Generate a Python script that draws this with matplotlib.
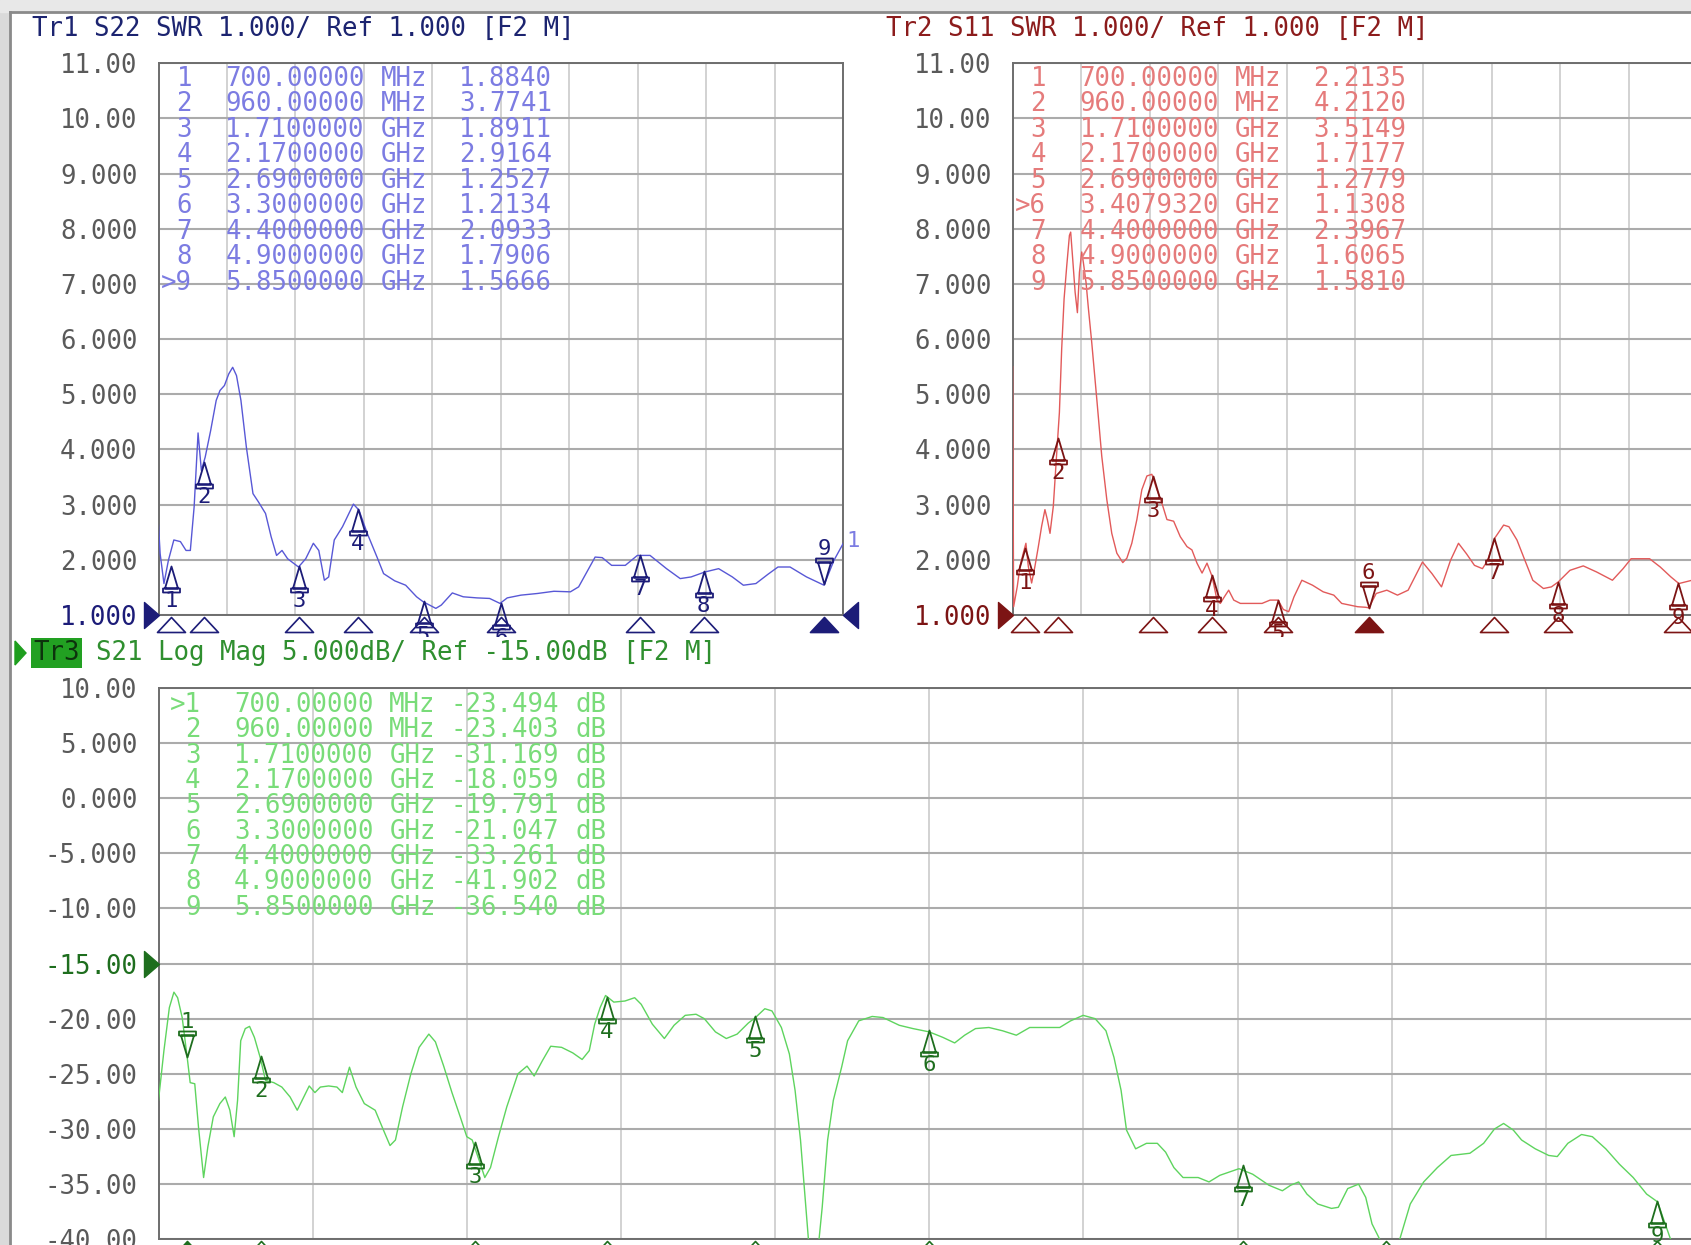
import numpy as np
import matplotlib

matplotlib.use("Agg")
import matplotlib.pyplot as plt
from matplotlib.lines import Line2D
from matplotlib.path import Path
from matplotlib.patches import Polygon, Rectangle
from matplotlib.transforms import Bbox, TransformedBbox, blended_transform_factory

W, H = 1691, 1245
MONO = ["DejaVu Sans Mono"]
FS = 18.5
GREY = "#5a5a5a"

# marker table (same stimulus for all three traces, Tr2 marker 6 is a search result)
MARKER_GHZ = [0.70, 0.96, 1.71, 2.17, 2.69, 3.30, 4.40, 4.90, 5.85]
MARKER_TXT = ["700.00000", "960.00000", "1.7100000", "2.1700000", "2.6900000",
              "3.3000000", "4.4000000", "4.9000000", "5.8500000"]
MARKER_UNIT = ["MHz", "MHz", "GHz", "GHz", "GHz", "GHz", "GHz", "GHz", "GHz"]
TR2_MARKER_GHZ = [0.70, 0.96, 1.71, 2.17, 2.69, 3.407932, 4.40, 4.90, 5.85]
TR2_MARKER_TXT = ["700.00000", "960.00000", "1.7100000", "2.1700000", "2.6900000",
                  "3.4079320", "4.4000000", "4.9000000", "5.8500000"]

TR1_MARKER_VAL = [1.8840, 3.7741, 1.8911, 2.9164, 1.2527, 1.2134, 2.0933, 1.7906, 1.5666]
TR2_MARKER_VAL = [2.2135, 4.2120, 3.5149, 1.7177, 1.2779, 1.1308, 2.3967, 1.6065, 1.5810]
TR3_MARKER_VAL = [-23.494, -23.403, -31.169, -18.059, -19.791, -21.047, -33.261, -41.902, -36.540]

# traces (GHz / SWR / dB)
TR1_F = [0.600, 0.613, 0.643, 0.678, 0.721, 0.773, 0.817, 0.851, 0.881, 0.912, 0.938, 0.968,
         1.011, 1.055, 1.085, 1.120, 1.154, 1.185, 1.215, 1.250, 1.293, 1.345, 1.388, 1.444,
         1.488, 1.531, 1.574, 1.618, 1.704, 1.761, 1.821, 1.864, 1.908, 1.942, 1.986, 2.051,
         2.137, 2.181, 2.246, 2.323, 2.375, 2.462, 2.549, 2.635, 2.687, 2.787, 2.830, 2.917,
         3.003, 3.112, 3.211, 3.293, 3.350, 3.458, 3.588, 3.718, 3.848, 3.913, 4.043, 4.099,
         4.173, 4.281, 4.376, 4.476, 4.606, 4.714, 4.800, 4.909, 5.017, 5.125, 5.212, 5.311,
         5.407, 5.485, 5.580, 5.710, 5.848, 5.926, 6.000]
TR1_SWR = [2.63, 2.11, 1.57, 1.99, 2.36, 2.33, 2.17, 2.17, 2.96, 4.30, 3.62, 3.86,
           4.34, 4.89, 5.07, 5.16, 5.37, 5.49, 5.34, 4.89, 4.04, 3.20, 3.05, 2.84,
           2.42, 2.08, 2.17, 2.02, 1.87, 2.02, 2.30, 2.17, 1.63, 1.69, 2.36, 2.60,
           3.01, 2.90, 2.48, 2.05, 1.75, 1.62, 1.54, 1.33, 1.24, 1.12, 1.18, 1.40,
           1.33, 1.31, 1.30, 1.21, 1.31, 1.36, 1.39, 1.43, 1.42, 1.51, 2.05, 2.04,
           1.90, 1.90, 2.08, 2.08, 1.84, 1.66, 1.69, 1.78, 1.84, 1.69, 1.54, 1.57,
           1.74, 1.87, 1.87, 1.69, 1.54, 1.99, 2.30]

TR2_F = [0.600, 0.608, 0.637, 0.658, 0.684, 0.705, 0.724, 0.750, 0.776, 0.803, 0.829, 0.855,
         0.874, 0.895, 0.921, 0.948, 0.969, 0.987, 1.006, 1.027, 1.048, 1.058, 1.074, 1.093,
         1.111, 1.127, 1.145, 1.158, 1.179, 1.198, 1.224, 1.264, 1.303, 1.343, 1.382, 1.422,
         1.469, 1.501, 1.540, 1.580, 1.619, 1.659, 1.698, 1.738, 1.777, 1.817, 1.870, 1.922,
         1.975, 2.014, 2.054, 2.094, 2.133, 2.173, 2.212, 2.238, 2.270, 2.304, 2.344, 2.396,
         2.484, 2.567, 2.630, 2.693, 2.735, 2.777, 2.819, 2.881, 2.965, 3.049, 3.133, 3.195,
         3.258, 3.321, 3.384, 3.409, 3.467, 3.551, 3.635, 3.719, 3.832, 3.907, 3.982, 4.053,
         4.116, 4.179, 4.242, 4.305, 4.346, 4.401, 4.472, 4.514, 4.577, 4.640, 4.702, 4.786,
         4.849, 4.903, 4.995, 5.100, 5.205, 5.330, 5.414, 5.477, 5.623, 5.707, 5.791, 5.854,
         5.958, 6.000]
TR2_SWR = [5.50, 1.15, 1.52, 1.88, 2.12, 2.30, 1.88, 1.58, 1.88, 2.24, 2.61, 2.91,
           2.73, 2.48, 2.97, 3.94, 4.67, 5.82, 6.73, 7.33, 7.88, 7.94, 7.45, 6.85,
           6.48, 7.21, 7.58, 7.39, 7.03, 6.55, 5.94, 4.91, 3.88, 3.09, 2.48, 2.12,
           1.95, 2.03, 2.30, 2.73, 3.27, 3.52, 3.55, 3.27, 3.03, 2.73, 2.70, 2.42,
           2.24, 2.18, 1.94, 1.76, 1.94, 1.70, 1.27, 1.21, 1.33, 1.45, 1.27, 1.21,
           1.21, 1.21, 1.27, 1.27, 1.10, 1.06, 1.33, 1.63, 1.54, 1.42, 1.36, 1.21,
           1.18, 1.15, 1.14, 1.13, 1.39, 1.45, 1.36, 1.45, 1.96, 1.75, 1.51, 1.99,
           2.30, 2.11, 1.90, 1.84, 1.99, 2.39, 2.63, 2.60, 2.36, 1.99, 1.63, 1.48,
           1.51, 1.60, 1.81, 1.89, 1.78, 1.63, 1.84, 2.02, 2.02, 1.87, 1.69, 1.57,
           1.63, 1.65]

TR3_F = [0.600, 0.619, 0.638, 0.654, 0.667, 0.683, 0.700, 0.711, 0.727, 0.740, 0.758, 0.773,
         0.792, 0.815, 0.834, 0.850, 0.865, 0.877, 0.888, 0.904, 0.919, 0.936, 0.956, 0.975,
         1.004, 1.032, 1.061, 1.086, 1.109, 1.128, 1.148, 1.167, 1.196, 1.225, 1.244, 1.269,
         1.292, 1.321, 1.359, 1.388, 1.411, 1.430, 1.455, 1.484, 1.513, 1.547, 1.570, 1.599,
         1.628, 1.657, 1.680, 1.699, 1.724, 1.743, 1.763, 1.791, 1.820, 1.859, 1.891, 1.916,
         1.945, 1.974, 2.012, 2.051, 2.084, 2.109, 2.128, 2.147, 2.166, 2.195, 2.234, 2.268,
         2.291, 2.330, 2.372, 2.406, 2.445, 2.483, 2.512, 2.551, 2.589, 2.627, 2.666, 2.691,
         2.724, 2.749, 2.782, 2.810, 2.830, 2.849, 2.864, 2.877, 2.895, 2.912, 2.925, 2.944,
         2.964, 2.993, 3.014, 3.053, 3.100, 3.138, 3.195, 3.243, 3.300, 3.348, 3.389, 3.424,
         3.462, 3.509, 3.557, 3.605, 3.652, 3.709, 3.757, 3.795, 3.839, 3.881, 3.919, 3.947,
         3.972, 3.991, 4.023, 4.061, 4.099, 4.128, 4.157, 4.189, 4.242, 4.280, 4.318, 4.385,
         4.433, 4.490, 4.537, 4.566, 4.594, 4.623, 4.661, 4.709, 4.733, 4.766, 4.804, 4.829,
         4.851, 4.880, 4.909, 4.947, 4.985, 5.032, 5.080, 5.128, 5.194, 5.242, 5.280, 5.312,
         5.346, 5.375, 5.423, 5.470, 5.500, 5.537, 5.585, 5.623, 5.670, 5.718, 5.766, 5.813,
         5.851, 5.904, 5.930]
TR3_DB = [-27.4, -22.9, -19.0, -17.6, -18.1, -19.9, -23.4, -25.8, -25.9, -29.8, -34.4, -31.6,
          -28.9, -27.7, -27.1, -28.3, -30.7, -27.4, -22.0, -20.9, -20.7, -21.7, -23.5, -25.6,
          -25.8, -26.2, -27.1, -28.3, -27.1, -26.1, -26.7, -26.2, -26.1, -26.2, -26.7, -24.4,
          -26.2, -27.7, -28.3, -30.1, -31.5, -31.0, -28.0, -25.0, -22.6, -21.4, -22.1, -24.3,
          -26.7, -28.9, -30.7, -31.0, -32.9, -34.4, -33.5, -30.7, -28.0, -25.0, -24.3, -25.2,
          -23.8, -22.5, -22.6, -23.1, -23.7, -22.9, -20.5, -19.0, -17.9, -18.5, -18.4, -18.1,
          -18.7, -20.5, -21.8, -20.6, -19.7, -19.6, -20.0, -21.2, -21.8, -21.4, -20.4, -19.9,
          -19.1, -19.3, -20.8, -23.2, -26.5, -31.0, -35.9, -40.1, -43.0, -40.5, -37.1, -31.0,
          -27.4, -24.4, -22.0, -20.2, -19.8, -19.9, -20.6, -20.9, -21.2, -21.7, -22.2, -21.5,
          -20.9, -20.8, -21.1, -21.5, -20.8, -20.8, -20.8, -20.2, -19.7, -20.0, -21.1, -23.5,
          -26.5, -30.1, -31.8, -31.3, -31.3, -32.1, -33.5, -34.4, -34.4, -34.8, -34.2, -33.6,
          -34.1, -35.1, -35.6, -35.1, -34.8, -35.9, -36.8, -37.2, -37.1, -35.4, -35.0, -36.2,
          -38.6, -40.1, -41.9, -40.1, -36.8, -34.8, -33.5, -32.4, -32.2, -31.3, -30.0, -29.5,
          -30.1, -31.0, -31.8, -32.4, -32.5, -31.3, -30.5, -30.7, -31.8, -33.2, -34.4, -35.9,
          -36.6, -40.5, -43.0]

SWR_TICKS = list(range(1, 12))
SWR_LABELS = ["1.000", "2.000", "3.000", "4.000", "5.000", "6.000", "7.000", "8.000",
              "9.000", "10.00", "11.00"]
DB_TICKS = list(range(-40, 11, 5))
DB_LABELS = ["-40.00", "-35.00", "-30.00", "-25.00", "-20.00", "-15.00", "-10.00",
             "-5.000", "0.000", "5.000", "10.00"]

TR1 = dict(trace="#5858d6", mark="#1c1c78", table="#7c7ce2", head="#1c2470")
TR2 = dict(trace="#e25a5a", mark="#7c1414", table="#e57b7b", head="#8c1c1c")
TR3 = dict(trace="#5ed45e", mark="#1e6e1e", table="#79dc79", head="#2f8f2f")

# marker glyphs in pixel units, tip at the origin
MOVE, LINE, CLOSE = Path.MOVETO, Path.LINETO, Path.CLOSEPOLY
_up = [(0, 0), (-6.5, -22), (6.5, -22), (0, 0),
       (-8.5, -22), (8.5, -22), (8.5, -26), (-8.5, -26), (-8.5, -22)]
_codes = [MOVE, LINE, LINE, CLOSE, MOVE, LINE, LINE, LINE, CLOSE]
MARK_UP = Path(_up, _codes)
MARK_DOWN = Path([(x, -y) for x, y in _up], _codes)
MARK_MS = 26 * 2 * 0.72
IND = Path([(0, -2), (-14, -17), (14, -17), (0, -2)], [MOVE, LINE, LINE, CLOSE])
IND_MS = 17 * 2 * 0.72
REF_R = Path([(-15, -13), (0, 0), (-15, 13), (-15, -13)], [MOVE, LINE, LINE, CLOSE])
REF_L = Path([(15, -13), (0, 0), (15, 13), (15, -13)], [MOVE, LINE, LINE, CLOSE])
REF_MS = 15 * 2 * 0.72


def px_axes(fig, x0, y0, x1, y1):
    return fig.add_axes([x0 / W, 1 - y1 / H, (x1 - x0) / W, (y1 - y0) / H])


def ftext(fig, x, y, s, **kw):
    kw.setdefault("fontsize", FS)
    return fig.text(x / W, 1 - y / H, s, family=MONO, va="center", **kw)


def setup(ax, ylim, ticks, labels, ref_val, ref_color):
    ax.set_xlim(0.6, 6.0)
    ax.set_ylim(*ylim)
    ax.set_xticks(np.linspace(0.6, 6.0, 11))
    ax.set_xticklabels([])
    ax.set_yticks(ticks)
    ax.set_yticklabels(labels, family=MONO, fontsize=FS, color=GREY)
    for t, lab in zip(ticks, ax.get_yticklabels()):
        if t == ref_val:
            lab.set_color(ref_color)
    ax.tick_params(length=0, pad=15)
    ax.set_axisbelow(True)
    ax.grid(axis="y", color="#ababab", lw=1.5)
    ax.grid(axis="x", color="#c6c6c6", lw=1.1)
    for s in ax.spines.values():
        s.set_color("#6e6e6e")
        s.set_linewidth(1.4)
    tr = blended_transform_factory(ax.transAxes, ax.transData)
    ax.plot(0, ref_val, transform=tr, marker=REF_R, ms=REF_MS, color=ref_color,
            ls="none", clip_on=False, zorder=5)


def draw_markers(fig, ax, freqs, vals, active, color, clip_y=None):
    # marker numbers are cut at the trace header below the panel, like on the screen
    clip = None
    if clip_y is not None:
        clip = TransformedBbox(Bbox([[0, 1 - clip_y / H], [1, 1]]), fig.transFigure)
    for i, (f, v) in enumerate(zip(freqs, vals)):
        down = i == active
        ax.plot(f, v, marker=MARK_DOWN if down else MARK_UP, ms=MARK_MS, mfc="none",
                mec=color, mew=1.3, ls="none", clip_on=False, zorder=4)
        t = ax.annotate(str(i + 1), (f, v), xytext=(0, 25 if down else -25),
                        textcoords="offset points", ha="center", va="center", fontsize=16,
                        family=MONO, color=color, annotation_clip=False, zorder=4)
        if clip is not None:
            t.set_clip_box(clip)
            t.set_clip_on(True)
    tr = blended_transform_factory(ax.transData, ax.transAxes)
    for i, f in enumerate(freqs):
        ax.plot(f, 0, transform=tr, marker=IND, ms=IND_MS,
                mfc=color if i == active else "none", mec=color, mew=1.2,
                ls="none", clip_on=False, zorder=4)


def draw_table(fig, y0, dy, cols, nums, freqs, units, vals, color, suffix=None):
    for i in range(len(nums)):
        y = y0 + dy * i
        ftext(fig, cols[0], y, nums[i], ha="right", color=color)
        ftext(fig, cols[1], y, freqs[i], ha="left", color=color)
        ftext(fig, cols[2], y, units[i], ha="left", color=color)
        ftext(fig, cols[3], y, vals[i], ha="left", color=color)
        if suffix:
            ftext(fig, cols[4], y, suffix, ha="left", color=color)


fig = plt.figure(figsize=(W / 100, H / 100), dpi=100, facecolor="white")

# window frame
fig.add_artist(Rectangle((0, 0), 10 / W, 1, transform=fig.transFigure, color="#dadada", zorder=0))
fig.add_artist(Rectangle((0, 1 - 12 / H), 1, 12 / H, transform=fig.transFigure,
                         color="#e8e8e8", zorder=0))
fig.add_artist(Line2D([10 / W, 10 / W], [0, 1 - 12 / H], transform=fig.transFigure,
                      color="#8a8a8a", lw=2))
fig.add_artist(Line2D([10 / W, 1], [1 - 12 / H, 1 - 12 / H], transform=fig.transFigure,
                      color="#8a8a8a", lw=2))

# --- Tr1 S22 ---
ax1 = px_axes(fig, 158.5, 63.3, 843.3, 615.0)
setup(ax1, (1, 11), SWR_TICKS, SWR_LABELS, 1, TR1["mark"])
ax1.plot(TR1_F, TR1_SWR, color=TR1["trace"], lw=1.0, zorder=3)
draw_markers(fig, ax1, MARKER_GHZ, TR1_MARKER_VAL, 8, TR1["mark"], clip_y=637)
tr = blended_transform_factory(ax1.transAxes, ax1.transData)
ax1.plot(1, 1, transform=tr, marker=REF_L, ms=REF_MS, color=TR1["mark"], ls="none",
         clip_on=False, zorder=5)
ax1.text(1.004, TR1_SWR[-1] + 0.05, "1", transform=tr, family=MONO, fontsize=16,
         color=TR1["table"], va="center", ha="left")
ftext(fig, 32, 29, "Tr1 S22 SWR 1.000/ Ref 1.000 [F2 M]", ha="left", color=TR1["head"])
draw_table(fig, 79.0, 25.45, (192, 225.4, 380.7, 459.4),
           [str(i + 1) for i in range(8)] + [">9"], MARKER_TXT, MARKER_UNIT,
           [f"{v:.4f}" for v in TR1_MARKER_VAL], TR1["table"])

# --- Tr2 S11 ---
ax2 = px_axes(fig, 1012.6, 63.3, 1697.4, 615.0)
setup(ax2, (1, 11), SWR_TICKS, SWR_LABELS, 1, TR2["mark"])
ax2.plot(TR2_F, TR2_SWR, color=TR2["trace"], lw=1.0, zorder=3)
draw_markers(fig, ax2, TR2_MARKER_GHZ, TR2_MARKER_VAL, 5, TR2["mark"], clip_y=637)
ftext(fig, 886, 29, "Tr2 S11 SWR 1.000/ Ref 1.000 [F2 M]", ha="left", color=TR2["head"])
draw_table(fig, 79.0, 25.45, (1046, 1079.5, 1234.8, 1313.5),
           ["1", "2", "3", "4", "5", ">6", "7", "8", "9"], TR2_MARKER_TXT, MARKER_UNIT,
           [f"{v:.4f}" for v in TR2_MARKER_VAL], TR2["table"])

# --- Tr3 S21 ---
ax3 = px_axes(fig, 158.5, 687.7, 1700.0, 1239.3)
setup(ax3, (-40, 10), DB_TICKS, DB_LABELS, -15, TR3["mark"])
ax3.plot(TR3_F, TR3_DB, color=TR3["trace"], lw=1.0, zorder=3)
draw_markers(fig, ax3, MARKER_GHZ, TR3_MARKER_VAL, 0, TR3["mark"])
fig.add_artist(Polygon([(15 / W, 1 - 641 / H), (26 / W, 1 - 653 / H), (15 / W, 1 - 665 / H)],
                       closed=True, transform=fig.transFigure, color="#1e9e1e"))
ftext(fig, 33, 653, "Tr3", ha="left", color="#0d330d",
      bbox=dict(boxstyle="square,pad=0.08", fc="#22a022", ec="none"))
ftext(fig, 96, 653, "S21 Log Mag 5.000dB/ Ref -15.00dB [F2 M]", ha="left", color=TR3["head"])
draw_table(fig, 705.0, 25.35, (200.6, 234.0, 389.3, 450.8, 575.9),
           [">1"] + [str(i + 1) for i in range(1, 9)], MARKER_TXT, MARKER_UNIT,
           [f"{v:.3f}" for v in TR3_MARKER_VAL], TR3["table"], suffix="dB")

fig.savefig("out.png", dpi=100, facecolor="white")
